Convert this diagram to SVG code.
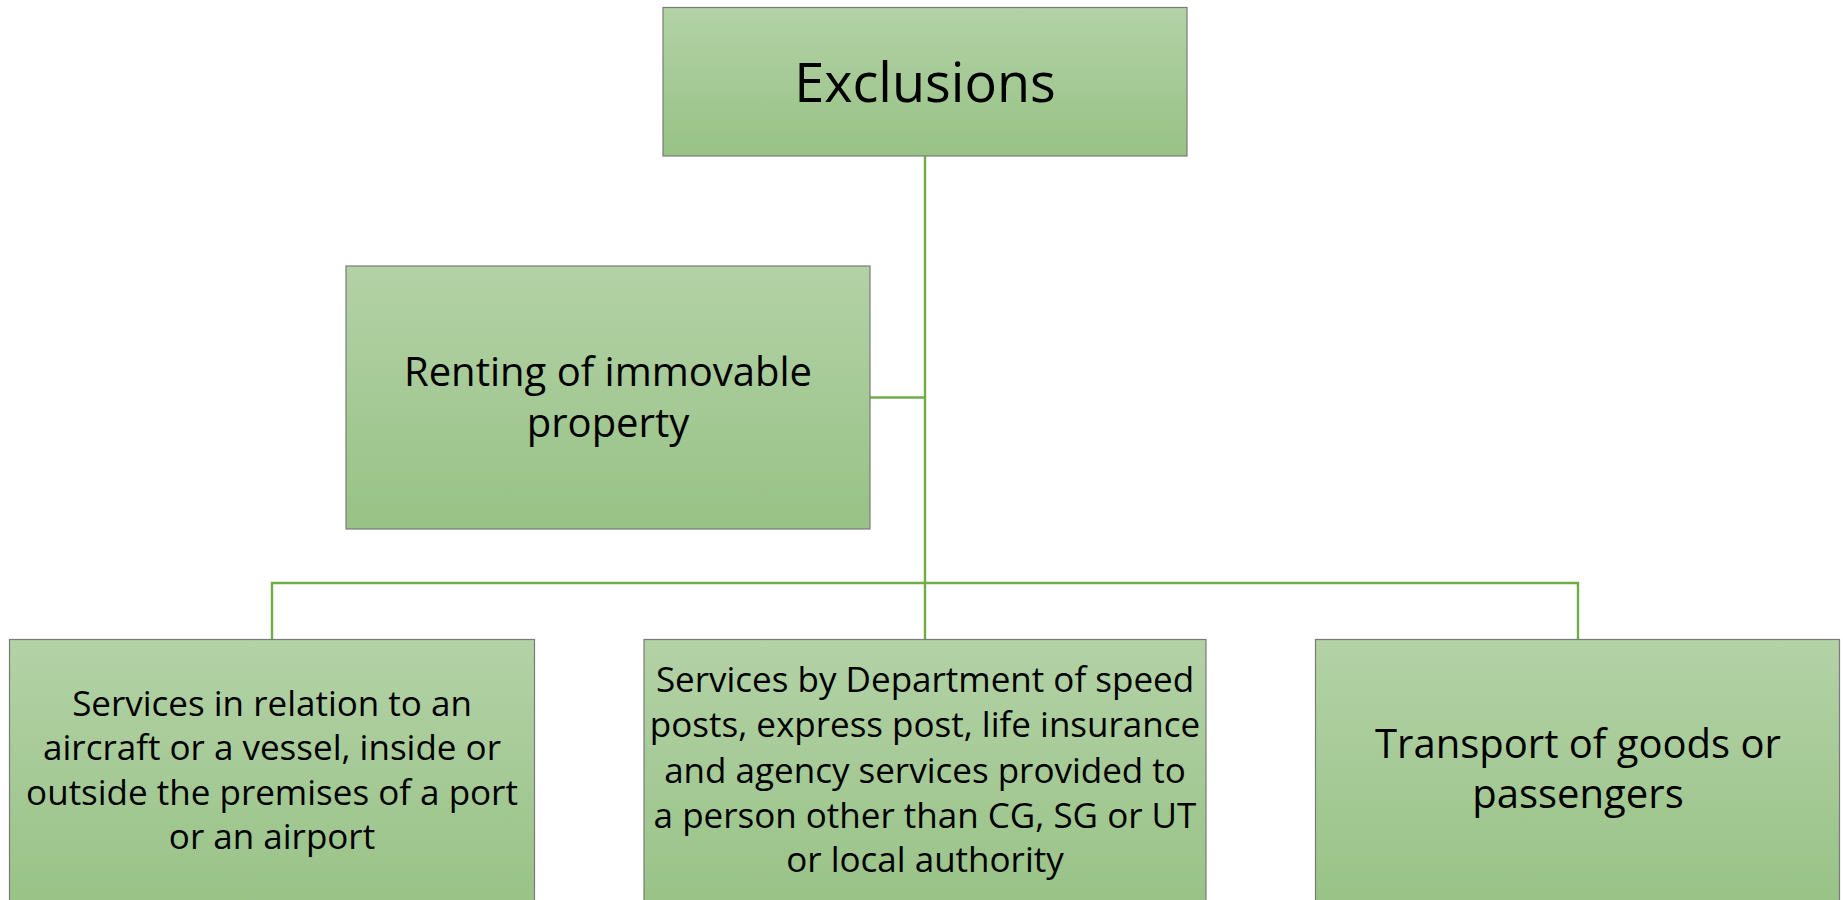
<svg xmlns="http://www.w3.org/2000/svg" width="1843" height="900" viewBox="0 0 1843 900">
<style>
.box{fill:url(#g);stroke:#7a7a7a;stroke-width:1.2}
.t{font-family:"Open Sans","Noto Sans","Liberation Sans",sans-serif;fill:#000;text-anchor:middle}
.c{fill:none;stroke:#70ad47;stroke-width:2.4}
</style>
<defs>
<linearGradient id="g" x1="0" y1="0" x2="0" y2="1">
<stop offset="0" stop-color="#b3d2a6"/>
<stop offset="1" stop-color="#98c286"/>
</linearGradient>
</defs>
<g id="connectors">
<line class="c" x1="925" y1="156" x2="925" y2="639"/>
<line class="c" x1="870" y1="397.5" x2="925" y2="397.5"/>
<polyline class="c" points="272,639 272,583 1578,583 1578,639"/>
</g>
<g id="exclusions">
<rect class="box" x="663" y="7.5" width="524" height="148.5"/>
<text class="t" x="925" y="102" font-size="54">Exclusions</text>
</g>
<g id="renting">
<rect class="box" x="346" y="266" width="524" height="263"/>
<text class="t" font-size="40"><tspan x="608" y="385.5">Renting of immovable</tspan><tspan x="608" y="436.5">property</tspan></text>
</g>
<g id="aircraft">
<rect class="box" x="9.5" y="639.5" width="525" height="275"/>
<text class="t" font-size="35"><tspan x="272" y="716">Services in relation to an</tspan><tspan x="272" y="760">aircraft or a vessel, inside or</tspan><tspan x="272" y="805">outside the premises of a port</tspan><tspan x="272" y="849">or an airport</tspan></text>
</g>
<g id="postal">
<rect class="box" x="644" y="639.5" width="562" height="275"/>
<text class="t" font-size="35"><tspan x="925" y="692">Services by Department of speed</tspan><tspan x="925" y="737">posts, express post, life insurance</tspan><tspan x="925" y="783">and agency services provided to</tspan><tspan x="925" y="828">a person other than CG, SG or UT</tspan><tspan x="925" y="872">or local authority</tspan></text>
</g>
<g id="transport">
<rect class="box" x="1315.5" y="639.5" width="524" height="275"/>
<text class="t" font-size="40"><tspan x="1578" y="758">Transport of goods or</tspan><tspan x="1578" y="808">passengers</tspan></text>
</g>
</svg>
